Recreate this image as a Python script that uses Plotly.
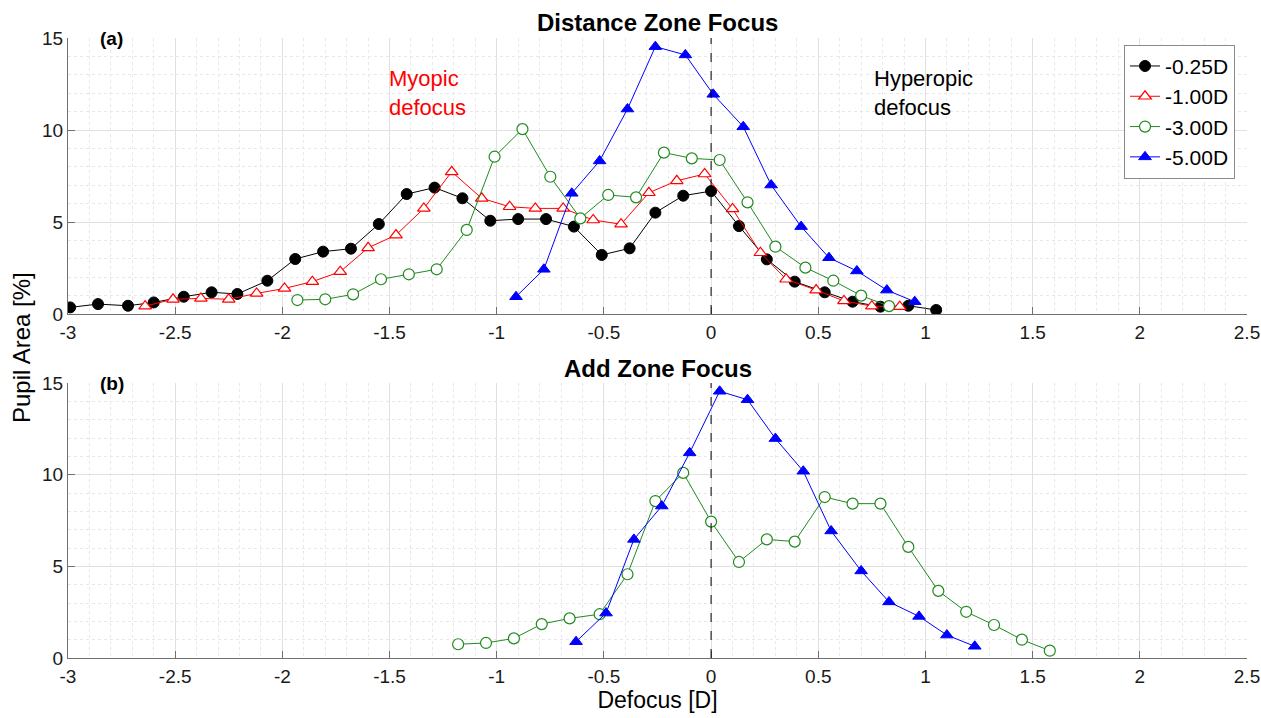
import plotly.graph_objects as go

# ---------------- data ----------------
series_names = ["-0.25D", "-1.00D", "-3.00D", "-5.00D"]

# (a) Distance Zone Focus
x_a_025 = [-2.99, -2.86, -2.72, -2.60, -2.46, -2.33, -2.21, -2.07, -1.94, -1.81, -1.68, -1.55, -1.42, -1.29,
           -1.16, -1.03, -0.90, -0.77, -0.64, -0.51, -0.38, -0.26, -0.13, 0.00, 0.13, 0.26, 0.39, 0.53, 0.66,
           0.79, 0.92, 1.05]
y_a_025 = [0.36, 0.54, 0.45, 0.63, 0.94, 1.18, 1.09, 1.81, 2.99, 3.39, 3.55, 4.89, 6.52, 6.87, 6.29, 5.07,
           5.16, 5.16, 4.75, 3.21, 3.57, 5.51, 6.43, 6.68, 4.78, 2.97, 1.76, 1.18, 0.67, 0.40, 0.45, 0.22]

x_a_100 = [-2.64, -2.51, -2.38, -2.25, -2.12, -1.99, -1.86, -1.73, -1.60, -1.47, -1.34, -1.21, -1.07, -0.94,
           -0.82, -0.69, -0.55, -0.42, -0.29, -0.16, -0.03, 0.10, 0.23, 0.35, 0.49, 0.62, 0.75, 0.88]
y_a_100 = [0.43, 0.80, 0.85, 0.80, 1.12, 1.39, 1.76, 2.30, 3.60, 4.29, 5.74, 7.73, 6.29, 5.83, 5.74, 5.74,
           5.11, 4.88, 6.59, 7.24, 7.61, 5.71, 3.33, 1.89, 1.30, 0.71, 0.43, 0.40]

x_a_300 = [-1.93, -1.80, -1.67, -1.54, -1.41, -1.28, -1.14, -1.01, -0.88, -0.75, -0.61, -0.48, -0.35, -0.22,
           -0.09, 0.04, 0.17, 0.30, 0.44, 0.57, 0.70, 0.83]
y_a_300 = [0.76, 0.80, 1.07, 1.89, 2.16, 2.43, 4.57, 8.55, 10.05, 7.46, 5.20, 6.47, 6.34, 8.77, 8.46, 8.37,
           6.07, 3.66, 2.52, 1.81, 1.00, 0.43]

x_a_500 = [-0.91, -0.78, -0.65, -0.52, -0.39, -0.26, -0.12, 0.01, 0.15, 0.28, 0.42, 0.55, 0.68, 0.82, 0.95]
y_a_500 = [0.94, 2.43, 6.56, 8.32, 11.14, 14.53, 14.08, 11.94, 10.18, 7.01, 4.75, 3.06, 2.34, 1.30, 0.67]

# (b) Add Zone Focus
x_b_300 = [-1.18, -1.05, -0.92, -0.79, -0.66, -0.52, -0.39, -0.26, -0.13, 0.00, 0.13, 0.26, 0.39, 0.53,
           0.66, 0.79, 0.92, 1.06, 1.19, 1.32, 1.45, 1.58]
y_b_300 = [0.75, 0.82, 1.07, 1.85, 2.16, 2.39, 4.57, 8.56, 10.10, 7.44, 5.24, 6.47, 6.35, 8.78, 8.42, 8.42,
           6.06, 3.66, 2.52, 1.80, 1.00, 0.40]

x_b_500 = [-0.63, -0.49, -0.36, -0.23, -0.10, 0.04, 0.17, 0.30, 0.43, 0.56, 0.70, 0.83, 0.97, 1.10, 1.23]
y_b_500 = [0.89, 2.45, 6.47, 8.29, 11.19, 14.55, 14.09, 11.97, 10.19, 6.93, 4.75, 3.06, 2.27, 1.25, 0.64]

x_tickvals = [-3, -2.5, -2, -1.5, -1, -0.5, 0, 0.5, 1, 1.5, 2, 2.5]
x_ticktext = ["-3", "-2.5", "-2", "-1.5", "-1", "-0.5", "0", "0.5", "1", "1.5", "2", "2.5"]
y_tickvals = [0, 5, 10, 15]
y_ticktext = ["0", "5", "10", "15"]
focus_x = 0

# ---------------- styles ----------------
FONT = "Liberation Sans, Arial, Helvetica, sans-serif"
GREEN = "#1f8a1f"
styles = {
    "-0.25D": dict(color="black", marker=dict(symbol="circle", size=11, color="black",
                                                line=dict(color="black", width=1))),
    "-1.00D": dict(color="red", marker=dict(symbol="triangle-up", size=11, color="white",
                                              line=dict(color="red", width=1.2))),
    "-3.00D": dict(color=GREEN, marker=dict(symbol="circle", size=11, color="white",
                                              line=dict(color=GREEN, width=1.2))),
    "-5.00D": dict(color="blue", marker=dict(symbol="triangle-up", size=11, color="blue",
                                               line=dict(color="blue", width=1))),
}

fig = go.Figure()


def add(name, xs, ys, xa, ya, legend):
    st = styles[name]
    fig.add_trace(go.Scatter(x=xs, y=ys, mode="lines+markers", name=name,
                             line=dict(color=st["color"], width=1), marker=st["marker"],
                             xaxis=xa, yaxis=ya, showlegend=legend, legendgroup=name))


add("-0.25D", x_a_025, y_a_025, "x", "y", True)
add("-1.00D", x_a_100, y_a_100, "x", "y", True)
add("-3.00D", x_a_300, y_a_300, "x", "y", True)
add("-5.00D", x_a_500, y_a_500, "x", "y", True)
add("-3.00D", x_b_300, y_b_300, "x2", "y2", False)
add("-5.00D", x_b_500, y_b_500, "x2", "y2", False)

axis_common = dict(
    showline=True, linecolor="#707070", linewidth=1, mirror=False,
    ticks="inside", ticklen=7, tickcolor="#707070", tickwidth=1,
    showgrid=True, gridcolor="#e0e0e0", gridwidth=1, zeroline=False,
    tickfont=dict(family=FONT, size=19, color="#1a1a1a"),
    automargin=False,
)
xaxis_common = dict(axis_common, range=[-3, 2.5], tickvals=x_tickvals, ticktext=x_ticktext,
                    ticklabelstandoff=1,
                    minor=dict(dtick=0.1, tick0=0, showgrid=True, gridcolor="#e8e8e8",
                               griddash="dot", ticks=""))
yaxis_common = dict(axis_common, range=[0, 15], tickvals=y_tickvals, ticktext=y_ticktext,
                    minor=dict(dtick=1, tick0=0, showgrid=True, gridcolor="#e8e8e8",
                               griddash="dot", ticks=""))

fig.update_layout(
    width=1261, height=718,
    margin=dict(l=68, r=14, t=38, b=60, autoexpand=False),
    paper_bgcolor="white", plot_bgcolor="white",
    font=dict(family=FONT, color="black"),
    xaxis=dict(xaxis_common, domain=[0, 1], anchor="y"),
    yaxis=dict(yaxis_common, domain=[0.5548, 1], anchor="x"),
    xaxis2=dict(xaxis_common, domain=[0, 1], anchor="y2",
                title=dict(text="Defocus [D]", font=dict(size=23, family=FONT), standoff=2)),
    yaxis2=dict(yaxis_common, domain=[0, 0.4435], anchor="x2"),
    legend=dict(x=0.8957, y=0.989, xanchor="left", yanchor="top",
                bgcolor="white", bordercolor="#8a8a8a", borderwidth=1,
                font=dict(size=21, family=FONT), itemwidth=30, tracegroupgap=0),
    showlegend=True,
)

# dashed focus lines
for yref in ["y", "y2"]:
    fig.add_shape(type="line", xref="x" if yref == "y" else "x2", yref=yref + " domain",
                  x0=focus_x, x1=focus_x, y0=0, y1=1,
                  line=dict(color="black", width=1, dash="dash"), layer="above")

annotations = [
    dict(text="<b>Distance Zone Focus</b>", xref="paper", yref="paper", x=0.5, y=1.0,
         yshift=16, xanchor="center", yanchor="middle", showarrow=False, font=dict(size=24)),
    dict(text="<b>Add Zone Focus</b>", xref="paper", yref="paper", x=0.5, y=0.4435,
         yshift=15, xanchor="center", yanchor="middle", showarrow=False, font=dict(size=24)),
    dict(text="<b>(a)</b>", xref="x", yref="y", x=-2.86, y=15, xanchor="left", yanchor="middle",
         showarrow=False, font=dict(size=19)),
    dict(text="<b>(b)</b>", xref="x2", yref="y2", x=-2.86, y=15, xanchor="left", yanchor="middle",
         showarrow=False, font=dict(size=19)),
    dict(text="Myopic<br>defocus", xref="x", yref="y", x=-1.51, y=13.6, xanchor="left",
         yanchor="top", align="left", showarrow=False, font=dict(size=22, color="red")),
    dict(text="Hyperopic<br>defocus", xref="x", yref="y", x=0.75, y=13.6, xanchor="left",
         yanchor="top", align="left", showarrow=False, font=dict(size=22, color="black")),
    dict(text="Pupil Area [%]", xref="paper", yref="paper", x=0, xshift=-47, y=0.5,
         textangle=-90, xanchor="center", yanchor="middle", showarrow=False, font=dict(size=24)),
]
fig.update_layout(annotations=annotations)

fig.write_html("out.html", config={"displayModeBar": False},
               post_script="document.body.style.margin='0';document.body.style.padding='0';")
